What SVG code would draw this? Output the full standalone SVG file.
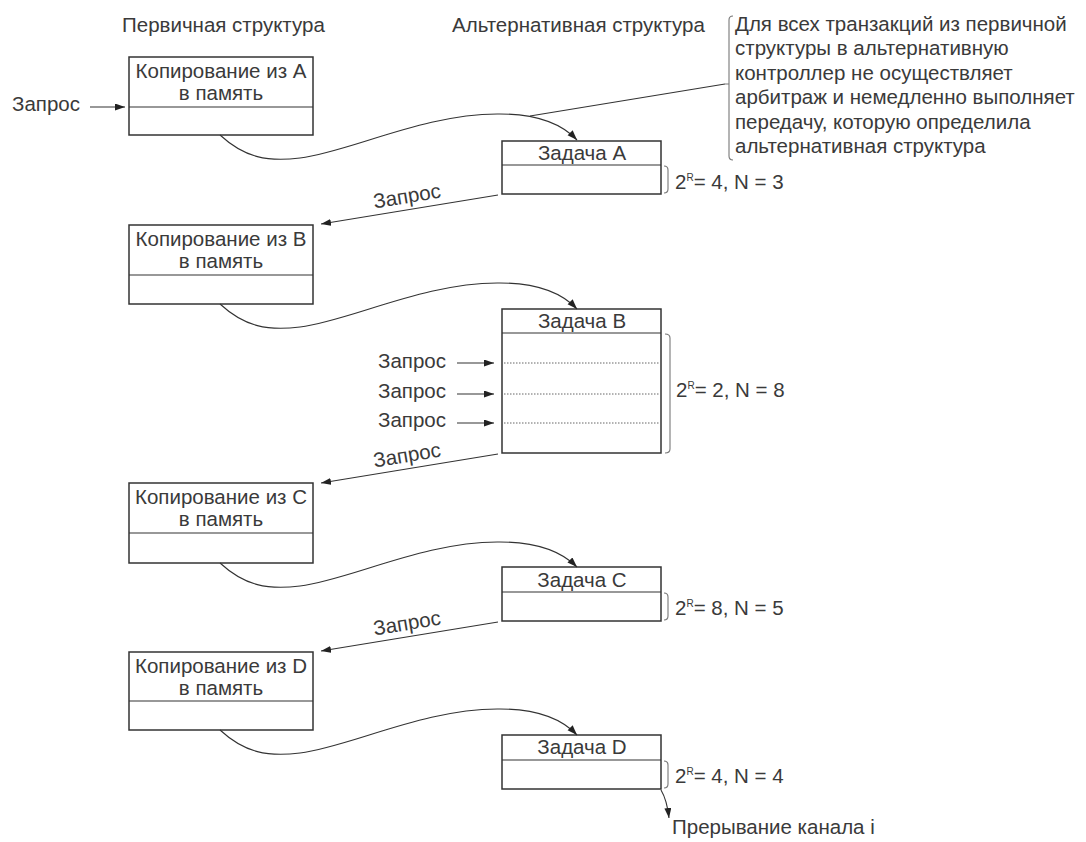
<svg xmlns="http://www.w3.org/2000/svg" width="1086" height="842" viewBox="0 0 1086 842">
<defs>
<style>
text{font-family:"Liberation Sans",Arial,sans-serif;font-size:20.5px;fill:#3a3a3a}
.box{fill:#fff;stroke:#333;stroke-width:1.5}
.ln{fill:none;stroke:#333;stroke-width:1.1}
.dot{fill:none;stroke:#666;stroke-width:1;stroke-dasharray:1.5 1.5}
.br{fill:none;stroke:#777;stroke-width:1.1}
.mid{text-anchor:middle}
.sup{font-size:10px}
</style>
<marker id="ah" markerWidth="11" markerHeight="8" refX="10" refY="3.5" orient="auto" markerUnits="userSpaceOnUse">
<path d="M0,0 L10,3.5 L0,7 z" fill="#222"/>
</marker>
</defs>
<rect width="1086" height="842" fill="#fff"/>

<g id="titles">
<text x="122" y="32">Первичная структура</text>
<text x="452" y="32">Альтернативная структура</text>
</g>

<g id="note">
<path class="br" d="M733,16 Q729,16 729,20 L729,156 Q729,160 733,160 M729,84 L725,84"/>
<text x="735" y="31">Для всех транзакций из первичной</text>
<text x="735" y="55">структуры в альтернативную</text>
<text x="735" y="80">контроллер не осуществляет</text>
<text x="735" y="104">арбитраж и немедленно выполняет</text>
<text x="735" y="129">передачу, которую определила</text>
<text x="735" y="153">альтернативная структура</text>
</g>

<g id="copyA">
<rect class="box" x="129" y="57" width="184" height="78"/>
<line class="ln" x1="129" y1="107" x2="313" y2="107"/>
<text class="mid" x="221" y="78">Копирование из A</text>
<text class="mid" x="221" y="100">в память</text>
</g>
<g id="copyB">
<rect class="box" x="129" y="225" width="184" height="79"/>
<line class="ln" x1="129" y1="275" x2="313" y2="275"/>
<text class="mid" x="221" y="246">Копирование из B</text>
<text class="mid" x="221" y="268">в память</text>
</g>
<g id="copyC">
<rect class="box" x="129" y="483" width="184" height="80"/>
<line class="ln" x1="129" y1="533" x2="313" y2="533"/>
<text class="mid" x="221" y="504">Копирование из C</text>
<text class="mid" x="221" y="526">в память</text>
</g>
<g id="copyD">
<rect class="box" x="129" y="652" width="184" height="78"/>
<line class="ln" x1="129" y1="701" x2="313" y2="701"/>
<text class="mid" x="221" y="673">Копирование из D</text>
<text class="mid" x="221" y="695">в память</text>
</g>

<g id="taskA">
<rect class="box" x="502" y="141" width="159" height="53"/>
<line class="ln" x1="502" y1="165" x2="661" y2="165"/>
<text class="mid" x="582" y="160">Задача A</text>
<path class="br" d="M664,166 Q668,166 668,170 L668,189 Q668,193 664,193"/>
<text x="675" y="189">2<tspan class="sup" dy="-8">R</tspan><tspan dy="8">= 4, N = 3</tspan></text>
</g>
<g id="taskB">
<rect class="box" x="502" y="309" width="159" height="144"/>
<line class="ln" x1="502" y1="333" x2="661" y2="333"/>
<line class="dot" x1="504" y1="363" x2="659" y2="363"/>
<line class="dot" x1="504" y1="394" x2="659" y2="394"/>
<line class="dot" x1="504" y1="423" x2="659" y2="423"/>
<text class="mid" x="582" y="328">Задача B</text>
<path class="br" d="M665,334 Q670,334 670,338 L670,449 Q670,453 665,453"/>
<text x="676" y="397">2<tspan class="sup" dy="-8">R</tspan><tspan dy="8">= 2, N = 8</tspan></text>
</g>
<g id="taskC">
<rect class="box" x="502" y="567" width="159" height="54"/>
<line class="ln" x1="502" y1="592" x2="661" y2="592"/>
<text class="mid" x="582" y="587">Задача C</text>
<path class="br" d="M664,593 Q668,593 668,597 L668,616 Q668,620 664,620"/>
<text x="675" y="615">2<tspan class="sup" dy="-8">R</tspan><tspan dy="8">= 8, N = 5</tspan></text>
</g>
<g id="taskD">
<rect class="box" x="502" y="735" width="159" height="54"/>
<line class="ln" x1="502" y1="760" x2="661" y2="760"/>
<text class="mid" x="582" y="754">Задача D</text>
<path class="br" d="M664,761 Q668,761 668,765 L668,784 Q668,788 664,788"/>
<text x="675" y="783">2<tspan class="sup" dy="-8">R</tspan><tspan dy="8">= 4, N = 4</tspan></text>
</g>

<g id="labels">
<text x="12" y="111">Запрос</text>
<text x="378" y="368">Запрос</text>
<text x="378" y="398">Запрос</text>
<text x="378" y="427">Запрос</text>
<text class="mid" transform="translate(408,203) rotate(-9.5)">Запрос</text>
<text class="mid" transform="translate(408,462) rotate(-9.5)">Запрос</text>
<text class="mid" transform="translate(408,630) rotate(-9.5)">Запрос</text>
<text x="672" y="834">Прерывание канала i</text>
</g>

<g id="connectors">
<line class="ln" x1="90" y1="107" x2="125" y2="107" marker-end="url(#ah)"/>
<line class="ln" x1="457" y1="363" x2="494" y2="363" marker-end="url(#ah)"/>
<line class="ln" x1="457" y1="394" x2="494" y2="394" marker-end="url(#ah)"/>
<line class="ln" x1="457" y1="423" x2="494" y2="423" marker-end="url(#ah)"/>
<path class="ln" d="M220,135 C245,158 268,162 300,158 C350,152 425,113 500,114 C535,114 560,122 577,140" marker-end="url(#ah)"/>
<path class="ln" d="M220,304 C245,327 268,331 300,327 C350,321 425,282 500,283 C535,283 560,291 577,309" marker-end="url(#ah)"/>
<path class="ln" d="M220,563 C245,586 268,590 300,586 C350,580 425,541 500,542 C535,542 560,550 577,567" marker-end="url(#ah)"/>
<path class="ln" d="M220,730 C245,753 268,757 300,753 C350,747 425,708 500,709 C535,709 560,717 577,735" marker-end="url(#ah)"/>
<line class="ln" x1="498" y1="195" x2="321" y2="224" marker-end="url(#ah)"/>
<line class="ln" x1="498" y1="454" x2="321" y2="483" marker-end="url(#ah)"/>
<line class="ln" x1="498" y1="622" x2="321" y2="651" marker-end="url(#ah)"/>
<line class="ln" x1="725" y1="84" x2="530" y2="116"/>
<path class="ln" d="M661,790 Q667,800 669,818" marker-end="url(#ah)"/>
</g>
</svg>
